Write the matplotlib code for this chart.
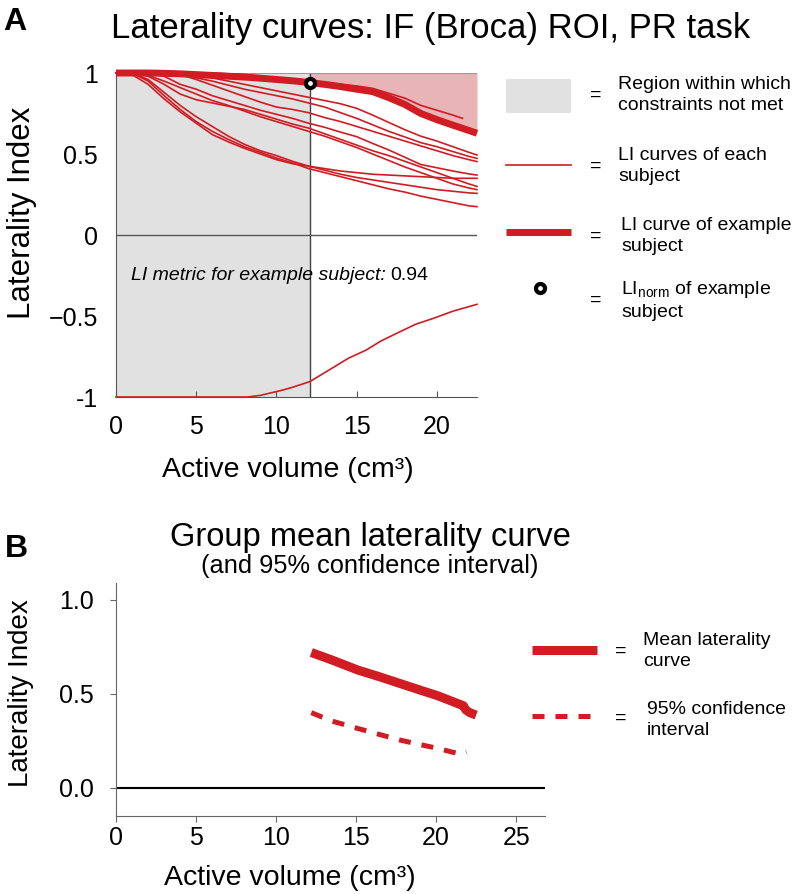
import numpy as np
import matplotlib
matplotlib.use('Agg')
import matplotlib.pyplot as plt
from matplotlib.patches import Rectangle

plt.rcParams['font.family'] = ['Liberation Sans', 'DejaVu Sans']

W, H = 792, 894
RED = '#d01c22'
PINK = '#e8b4b5'
GREY = '#e1e1e1'

# ---- panel A : laterality curves, one per subject
vol = [0, 1, 2, 3, 4, 5, 6, 7, 8, 9, 10, 11, 12, 13, 14, 15, 16, 17, 18, 19, 20, 21, 22, 22.5]
li_example = [1, 1, 1, 0.998, 0.995, 0.99, 0.985, 0.98, 0.975, 0.968, 0.96, 0.952, 0.942, 0.93,
              0.916, 0.90, 0.885, 0.848, 0.806, 0.75, 0.712, 0.678, 0.645, 0.628]
li_a = [1, 1, 1, 1, 1, 0.99, 0.97, 0.95, 0.93, 0.91, 0.89, 0.87, 0.85, 0.83, 0.81, 0.782,
        0.74, 0.695, 0.65, 0.61, 0.58, 0.545, 0.51, 0.494]
li_b = [1, 1, 1, 1, 0.99, 0.97, 0.95, 0.925, 0.90, 0.88, 0.86, 0.84, 0.815, 0.79, 0.755, 0.72,
        0.68, 0.64, 0.605, 0.57, 0.545, 0.515, 0.485, 0.473]
li_c = [1, 1, 1, 1, 0.99, 0.96, 0.925, 0.89, 0.855, 0.82, 0.79, 0.775, 0.755, 0.725, 0.70, 0.67,
        0.64, 0.61, 0.58, 0.55, 0.52, 0.49, 0.465, 0.453]
li_d = [1, 1, 1, 0.98, 0.93, 0.90, 0.86, 0.83, 0.80, 0.77, 0.745, 0.72, 0.69, 0.665, 0.635, 0.607,
        0.565, 0.525, 0.48, 0.435, 0.415, 0.395, 0.377, 0.37]
li_e = [1, 1, 0.98, 0.93, 0.87, 0.835, 0.815, 0.795, 0.775, 0.745, 0.715, 0.685, 0.66, 0.625, 0.59,
        0.555, 0.52, 0.49, 0.455, 0.42, 0.385, 0.35, 0.315, 0.30]
li_f = [1, 1, 0.985, 0.95, 0.91, 0.87, 0.83, 0.80, 0.765, 0.73, 0.70, 0.67, 0.64, 0.61, 0.575, 0.54,
        0.50, 0.46, 0.42, 0.385, 0.35, 0.315, 0.29, 0.28]
li_g = [1, 0.99, 0.93, 0.84, 0.76, 0.69, 0.62, 0.575, 0.535, 0.50, 0.465, 0.44, 0.425, 0.41, 0.395,
        0.385, 0.375, 0.37, 0.365, 0.36, 0.355, 0.35, 0.35, 0.35]
li_h = [1, 1, 0.95, 0.86, 0.775, 0.70, 0.64, 0.59, 0.545, 0.51, 0.475, 0.445, 0.41, 0.385, 0.36,
        0.335, 0.31, 0.285, 0.265, 0.24, 0.22, 0.20, 0.18, 0.175]
li_i = [1, 1, 0.96, 0.88, 0.80, 0.73, 0.67, 0.61, 0.56, 0.52, 0.49, 0.455, 0.425, 0.40, 0.375,
        0.355, 0.34, 0.325, 0.31, 0.295, 0.28, 0.27, 0.26, 0.257]
subjects = [li_a, li_b, li_c, li_d, li_e, li_f, li_g, li_h, li_i]

# curve that stops early (inside the pink area)
vol_short = [0, 6, 7, 8, 9, 10, 11, 12, 13, 14, 15, 16, 17, 18, 19, 20, 21, 21.6]
li_short = [1, 1, 0.995, 0.99, 0.98, 0.97, 0.96, 0.95, 0.94, 0.93, 0.92, 0.905, 0.875, 0.845,
            0.80, 0.77, 0.74, 0.72]

# right-lateralised subject
vol_neg = [0, 8.2, 9, 10.4, 11, 12.08, 13.5, 14.5, 15.6, 16.5, 17.7, 18.7, 19.8, 21, 22.5]
li_neg = [-1, -1, -0.99, -0.957, -0.94, -0.905, -0.82, -0.76, -0.71, -0.655, -0.597, -0.55,
          -0.514, -0.47, -0.428]

li_vol = 12.08     # volume where constraints are first met
li_norm = 0.94

# ---- panel B : group mean
mean_vol = [12.2, 13.5, 15.1, 16.5, 17.75, 19, 20.1, 21.0, 21.7, 21.85, 22.1, 22.5]
mean_li = [0.72, 0.68, 0.627, 0.59, 0.555, 0.52, 0.49, 0.46, 0.437, 0.415, 0.40, 0.387]
ci_vol = [12.2, 13.5, 15.1, 16.5, 17.75, 19, 20.1, 21.0, 21.6, 21.9]
ci_lo = [0.40, 0.355, 0.316, 0.283, 0.254, 0.23, 0.21, 0.19, 0.18, 0.19]


def fx(x):
    return x / W


def fy(y):
    return 1 - y / H


fig = plt.figure(figsize=(W / 100, H / 100), dpi=100)

# ================= panel A
ax = fig.add_axes([fx(116), fy(397), 361 / W, 324 / H])
ax.set_xlim(0, 22.5)
ax.set_ylim(-1, 1)
ax.axvspan(0, li_vol, color=GREY, lw=0, zorder=0)
v = np.array(vol)
ex = np.array(li_example)
m = v >= 12
ax.fill_between(v[m], ex[m], 1, color=PINK, lw=0, zorder=0.5)
ax.axvline(li_vol, color='#444444', lw=1, zorder=1)
ax.axhline(0, color='#555555', lw=1, zorder=1)
ax.axhline(1, color='#999999', lw=0.8, zorder=1)

for s in subjects:
    ax.plot(vol, s, color=RED, lw=1.2, clip_on=False, zorder=2)
ax.plot(vol_short, li_short, color=RED, lw=1.2, clip_on=False, zorder=2)
ax.plot(vol_neg, li_neg, color=RED, lw=1.2, clip_on=False, zorder=2)
ax.plot(vol, li_example, color=RED, lw=5, clip_on=False, zorder=3, solid_capstyle='butt')
ax.plot([li_vol], [li_norm], 'o', ms=6.5, mfc='white', mec='black', mew=3, zorder=4, clip_on=False)

ax.text(0.92, -0.253, 'LI metric for example subject:', style='italic', fontsize=14, va='center')
ax.text(17.1, -0.253, '%.2f' % li_norm, fontsize=14, va='center')

for side in ['top', 'right']:
    ax.spines[side].set_visible(False)
for side in ['left', 'bottom']:
    ax.spines[side].set_color('#555555')
ax.set_xticks([0, 5, 10, 15, 20])
ax.set_yticks([-1, -0.5, 0, 0.5, 1])
ax.set_yticklabels(['-1', '\u22120.5', '0', '0.5', '1'])
ax.tick_params(axis='x', direction='in', length=4, color='#555555', labelsize=18, pad=13)
ax.tick_params(axis='y', length=0, labelsize=18, pad=13)

# ================= panel B
bx = fig.add_axes([fx(116), fy(816), 429 / W, 233 / H])
bx.set_xlim(0, 26.8)
bx.set_ylim(-0.15, 1.09)
bx.axhline(0, color='black', lw=1.5, zorder=1)
bx.plot(mean_vol, mean_li, color=RED, lw=6.5, solid_capstyle='butt', zorder=3)
bx.plot(ci_vol, ci_lo, color=RED, lw=3.6, linestyle=(0, (2.4, 2.2)), zorder=3)
for side in ['top', 'right']:
    bx.spines[side].set_visible(False)
for side in ['left', 'bottom']:
    bx.spines[side].set_color('#666666')
bx.set_xticks([0, 5, 10, 15, 20, 25])
bx.set_yticks([0, 0.5, 1.0])
bx.set_yticklabels(['0.0', '0.5', '1.0'])
bx.tick_params(axis='both', direction='out', length=4, color='#666666', labelsize=18)
bx.tick_params(axis='x', pad=3)
bx.tick_params(axis='y', pad=12)

# ================= texts
fig.text(fx(3), fy(30), 'A', fontsize=23, fontweight='bold', va='baseline')
fig.text(fx(5), fy(557), 'B', fontsize=23, fontweight='bold', va='baseline')
fig.text(fx(431), fy(38), 'Laterality curves: IF (Broca) ROI, PR task', fontsize=25,
         ha='center', va='baseline')
fig.text(fx(370), fy(546), 'Group mean laterality curve', fontsize=23.5, ha='center', va='baseline')
fig.text(fx(370), fy(573), '(and 95% confidence interval)', fontsize=18.3, ha='center', va='baseline')
fig.text(fx(22), fy(213), 'Laterality Index', fontsize=22.5, rotation=90, ha='center', va='center')
fig.text(fx(21), fy(693), 'Laterality Index', fontsize=20, rotation=90, ha='center', va='center')
fig.text(fx(288), fy(470), 'Active volume (cm\u00b3)', fontsize=20.5, ha='center', va='center')
fig.text(fx(290), fy(878), 'Active volume (cm\u00b3)', fontsize=20.5, ha='center', va='center')

# ================= legends (figure pixel space)
lg = fig.add_axes([0, 0, 1, 1], facecolor='none')
lg.set_xlim(0, W)
lg.set_ylim(H, 0)
lg.axis('off')

lg.add_patch(Rectangle((506, 79), 65, 34, color=GREY, lw=0))
lg.plot([506, 571], [165, 165], color=RED, lw=1.2)
lg.plot([506, 571], [232, 232], color=RED, lw=5, solid_capstyle='butt')
lg.plot([540], [288], 'o', ms=6.5, mfc='white', mec='black', mew=3)
leg_a = [(95, 618, 'Region within which\nconstraints not met'),
         (166, 618, 'LI curves of each\nsubject'),
         (236, 621, 'LI curve of example\nsubject'),
         (300, 621, 'LI$_{\\mathregular{norm}}$ of example\nsubject')]
for y, x, t in leg_a:
    lg.text(596, y, '=', fontsize=14, ha='center', va='center')
    lg.text(x, y, t, fontsize=14, va='center', linespacing=1.3)

lg.plot([532, 597], [650, 650], color=RED, lw=6.5, solid_capstyle='butt')
lg.plot([532, 597], [716, 716], color=RED, lw=3.6, linestyle=(0, (2.4, 2.2)))
lg.text(621, 651, '=', fontsize=14, ha='center', va='center')
lg.text(621, 718, '=', fontsize=14, ha='center', va='center')
lg.text(643, 651, 'Mean laterality\ncurve', fontsize=14, va='center', linespacing=1.3)
lg.text(647, 720, '95% confidence\ninterval', fontsize=14, va='center', linespacing=1.3)

fig.savefig('out.png', dpi=100)
